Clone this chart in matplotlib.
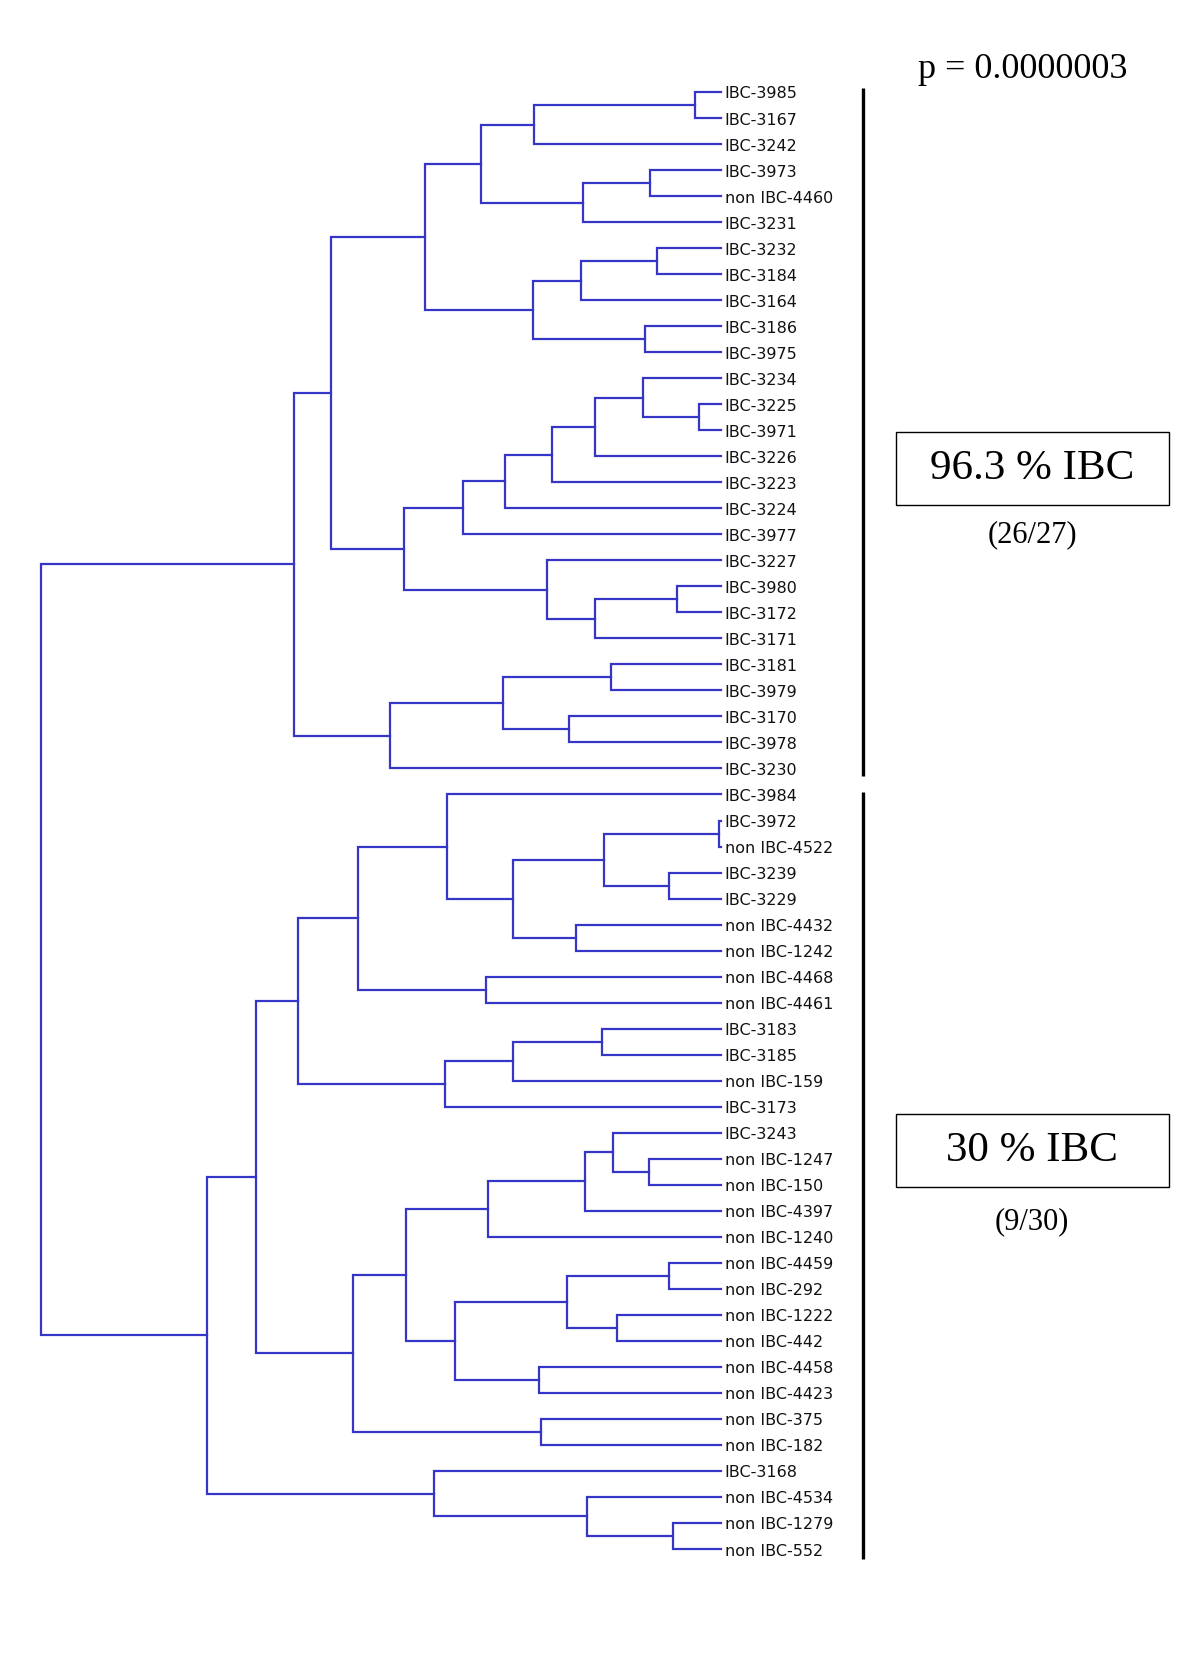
import matplotlib as mpl
mpl.use('Agg')
import matplotlib.pyplot as plt
import matplotlib.transforms as mtransforms
from matplotlib.patches import Rectangle

# leaves, top to bottom
ibc_group = ["IBC-3985", "IBC-3167", "IBC-3242", "IBC-3973", "non IBC-4460", "IBC-3231",
             "IBC-3232", "IBC-3184", "IBC-3164", "IBC-3186", "IBC-3975", "IBC-3234",
             "IBC-3225", "IBC-3971", "IBC-3226", "IBC-3223", "IBC-3224", "IBC-3977",
             "IBC-3227", "IBC-3980", "IBC-3172", "IBC-3171", "IBC-3181", "IBC-3979",
             "IBC-3170", "IBC-3978", "IBC-3230"]
mixed_group = ["IBC-3984", "IBC-3972", "non IBC-4522", "IBC-3239", "IBC-3229", "non IBC-4432",
               "non IBC-1242", "non IBC-4468", "non IBC-4461", "IBC-3183", "IBC-3185",
               "non IBC-159", "IBC-3173", "IBC-3243", "non IBC-1247", "non IBC-150",
               "non IBC-4397", "non IBC-1240", "non IBC-4459", "non IBC-292", "non IBC-1222",
               "non IBC-442", "non IBC-4458", "non IBC-4423", "non IBC-375", "non IBC-182",
               "IBC-3168", "non IBC-4534", "non IBC-1279", "non IBC-552"]
leaves = ibc_group + mixed_group

# merges: (node, child a, child b, height) - heights
merges = [
    ("n1", "IBC-3985", "IBC-3167", 24), ("n2", "n1", "IBC-3242", 175),
    ("n3", "IBC-3973", "non IBC-4460", 66), ("n4", "n3", "IBC-3231", 129),
    ("n5", "n2", "n4", 225), ("n6", "IBC-3232", "IBC-3184", 60),
    ("n7", "n6", "IBC-3164", 131), ("n8", "IBC-3186", "IBC-3975", 71),
    ("n9", "n7", "n8", 176), ("n10", "n5", "n9", 277),
    ("n11", "IBC-3225", "IBC-3971", 20), ("n12", "IBC-3234", "n11", 73),
    ("n13", "n12", "IBC-3226", 118), ("n14", "n13", "IBC-3223", 158),
    ("n15", "n14", "IBC-3224", 202), ("n16", "n15", "IBC-3977", 241),
    ("n17", "IBC-3980", "IBC-3172", 41), ("n18", "n17", "IBC-3171", 118),
    ("n19", "IBC-3227", "n18", 163), ("n20", "n16", "n19", 297),
    ("n21", "n10", "n20", 365), ("n22", "IBC-3181", "IBC-3979", 103),
    ("n23", "IBC-3170", "IBC-3978", 142), ("n24", "n22", "n23", 204),
    ("n25", "n24", "IBC-3230", 310), ("n26", "n21", "n25", 400),
    ("b1", "IBC-3972", "non IBC-4522", 2), ("b2", "IBC-3239", "IBC-3229", 48),
    ("b3", "b1", "b2", 109), ("b4", "non IBC-4432", "non IBC-1242", 136),
    ("b5", "b3", "b4", 195), ("b6", "IBC-3984", "b5", 256),
    ("b7", "non IBC-4468", "non IBC-4461", 220), ("b8", "b6", "b7", 340),
    ("b9", "IBC-3183", "IBC-3185", 111), ("b10", "b9", "non IBC-159", 195),
    ("b11", "b10", "IBC-3173", 258), ("b12", "b8", "b11", 396),
    ("b13", "non IBC-1247", "non IBC-150", 67), ("b14", "IBC-3243", "b13", 101),
    ("b15", "b14", "non IBC-4397", 127), ("b16", "b15", "non IBC-1240", 218),
    ("b17", "non IBC-4459", "non IBC-292", 48), ("b18", "non IBC-1222", "non IBC-442", 97),
    ("b19", "b17", "b18", 144), ("b20", "non IBC-4458", "non IBC-4423", 170),
    ("b21", "b19", "b20", 249), ("b22", "b16", "b21", 295),
    ("b23", "non IBC-375", "non IBC-182", 168), ("b24", "b22", "b23", 344),
    ("b25", "b12", "b24", 435), ("b26", "non IBC-1279", "non IBC-552", 45),
    ("b27", "non IBC-4534", "b26", 125), ("b28", "IBC-3168", "b27", 269),
    ("b29", "b25", "b28", 481), ("root", "n26", "b29", 637),
]

p_text = "p = 0.0000003"
group_titles = ["96.3 % IBC", "30 % IBC"]
group_counts = ["(26/27)", "(9/30)"]

line_col = '#3535c8'

fig = plt.figure(figsize=(12, 16.8), dpi=100)
ax = fig.add_axes([40.7 / 1200, 1 - 1549 / 1680, 680 / 1200, 1457 / 1680])
ax.set_xlim(637, 0)
ax.set_ylim(len(leaves) - 1, 0)
ax.axis('off')

pos = {}
for i, name in enumerate(leaves):
    pos[name] = (0, i)

for node, a, b, h in merges:
    xa, ya = pos[a]
    xb, yb = pos[b]
    ax.plot([xa, h, h, xb], [ya, ya, yb, yb], color=line_col, lw=1.6,
            solid_joinstyle='miter', clip_on=False)
    pos[node] = (h, (ya + yb) / 2)

lab_tr = mtransforms.offset_copy(ax.transData, fig=fig, x=4, y=-2, units='dots')
for i, name in enumerate(leaves):
    ax.text(0, i, name, transform=lab_tr, ha='left', va='center',
            fontsize=11.5, family='DejaVu Sans', color='#111111')

# group bars on the right
bar_tr = mtransforms.blended_transform_factory(fig.transFigure, ax.transData)
n1 = len(ibc_group)
spans = [(-0.15, n1 - 1 + 0.3), (n1 - 0.1, len(leaves) - 1 + 0.4)]
for y0, y1 in spans:
    ax.plot([863 / 1200, 863 / 1200], [y0, y1], color='black', lw=2.4,
            transform=bar_tr, clip_on=False, solid_capstyle='butt')

serif = ['Liberation Serif', 'DejaVu Serif']
fig.text(1023 / 1200, 1 - 70 / 1680, p_text, ha='center', va='center',
         fontsize=26, family=serif)

boxes = [(432, 505), (1114, 1187)]
count_y = [535, 1222]
for (top, bot), title, cnt, cy in zip(boxes, group_titles, group_counts, count_y):
    fig.patches.append(Rectangle((896 / 1200, 1 - bot / 1680), 273 / 1200, (bot - top) / 1680,
                                 transform=fig.transFigure, fill=False,
                                 edgecolor='black', lw=1.0))
    fig.text(1032 / 1200, 1 - (top + bot) / 2 / 1680, title, ha='center', va='center',
             fontsize=31, family=serif)
    fig.text(1032 / 1200, 1 - cy / 1680, cnt, ha='center', va='center',
             fontsize=22, family=serif)

fig.savefig('out.png', dpi=100, facecolor='white')
